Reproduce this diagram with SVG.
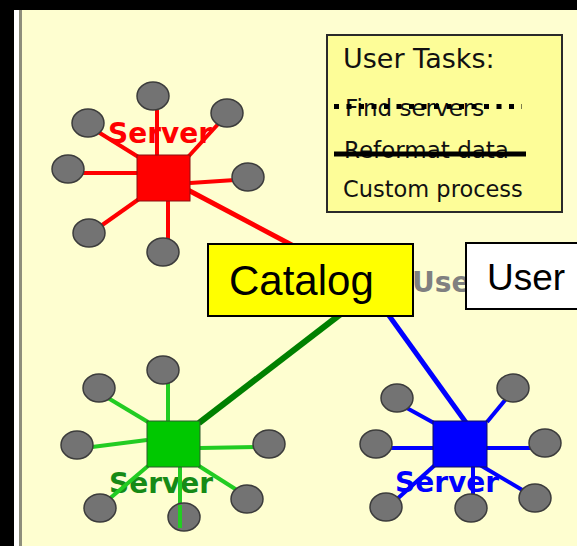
<svg xmlns="http://www.w3.org/2000/svg" width="577" height="546" viewBox="0 0 577 546">
<style>
.sat{fill:#737373;stroke:#3c3c3c;stroke-width:1.5}
.srv{font-family:"DejaVu Sans",Verdana,sans-serif;font-weight:bold;font-size:28px}
.leg{font-family:"DejaVu Sans",Verdana,sans-serif;fill:#111}
.box{font-family:"Liberation Sans",Arial,sans-serif;fill:#000}
.r{stroke:#ff0000;stroke-width:4;fill:none}
.g{stroke:#22cc22;stroke-width:4;fill:none}
.b{stroke:#0000ff;stroke-width:4;fill:none}
</style>
<rect x="0" y="0" width="577" height="546" fill="#000"/>
<rect x="14" y="10" width="6" height="536" fill="#ffffff"/>
<rect x="19" y="10" width="3" height="536" fill="#8e8e7c"/>
<rect x="22" y="10" width="555" height="536" fill="#fefed0"/>

<g id="connectors">
  <line x1="188" y1="190" x2="305" y2="252" stroke="#ff0000" stroke-width="5"/>
  <line x1="199" y1="423" x2="342" y2="313" stroke="#008000" stroke-width="6"/>
  <line x1="467" y1="424" x2="385" y2="310" stroke="#0000ff" stroke-width="5"/>
</g>

<g id="legend">
  <rect x="327" y="35" width="235" height="177" fill="#fdfd98" stroke="#2a2a2a" stroke-width="2"/>
  <text class="leg" x="343" y="68" font-size="27">User Tasks:</text>
  <text class="leg" x="345" y="116" font-size="23">Find servers</text>
  <line x1="334" y1="106.5" x2="522" y2="106.5" stroke="#000" stroke-width="5" stroke-dasharray="5 7.5"/>
  <text class="leg" x="344" y="158" font-size="23">Reformat data</text>
  <line x1="334" y1="154" x2="526" y2="154" stroke="#000" stroke-width="5"/>
  <text class="leg" x="343" y="197" font-size="22.5">Custom process</text>
</g>

<g id="server-red">
  <g class="r">
    <line x1="157" y1="110" x2="157" y2="155"/>
    <line x1="95" y1="130" x2="140" y2="158"/>
    <line x1="220" y1="122" x2="188" y2="157"/>
    <line x1="82" y1="173" x2="137" y2="173"/>
    <line x1="190" y1="183" x2="235" y2="180"/>
    <line x1="139" y1="199" x2="98" y2="228"/>
    <line x1="168" y1="201" x2="168" y2="240"/>
  </g>
  <text class="srv" x="108" y="143" fill="#ff0000">Server</text>
  <rect x="137" y="155" width="53" height="46" fill="#ff0000" stroke="#8a1010" stroke-width="1"/>
  <ellipse class="sat" cx="153" cy="96" rx="16" ry="14"/>
  <ellipse class="sat" cx="88" cy="123" rx="16" ry="14"/>
  <ellipse class="sat" cx="227" cy="113" rx="16" ry="14"/>
  <ellipse class="sat" cx="68" cy="169" rx="16" ry="14"/>
  <ellipse class="sat" cx="248" cy="177" rx="16" ry="14"/>
  <ellipse class="sat" cx="89" cy="233" rx="16" ry="14"/>
  <ellipse class="sat" cx="163" cy="252" rx="16" ry="14"/>
</g>

<g id="server-green">
  <g class="g">
    <line x1="168" y1="382" x2="168" y2="421"/>
    <line x1="108" y1="398" x2="148" y2="422"/>
    <line x1="92" y1="447" x2="147" y2="440"/>
    <line x1="200" y1="448" x2="256" y2="447"/>
  </g>
  <text class="srv" x="109" y="493" fill="#168a16">Server</text>
  <g class="g">
    <line x1="148" y1="466" x2="108" y2="500"/>
    <line x1="180" y1="467" x2="180" y2="520"/>
    <line x1="199" y1="466" x2="240" y2="492"/>
  </g>
  <rect x="147" y="421" width="53" height="46" fill="#00c800" stroke="#2c5a2c" stroke-width="1"/>
  <ellipse class="sat" cx="163" cy="370" rx="16" ry="14"/>
  <ellipse class="sat" cx="99" cy="388" rx="16" ry="14"/>
  <ellipse class="sat" cx="77" cy="445" rx="16" ry="14"/>
  <ellipse class="sat" cx="269" cy="444" rx="16" ry="14"/>
  <ellipse class="sat" cx="100" cy="508" rx="16" ry="14"/>
  <ellipse class="sat" cx="247" cy="499" rx="16" ry="14"/>
  <ellipse class="sat" cx="184" cy="517" rx="16" ry="14"/>
  <line x1="180" y1="505" x2="180" y2="528" stroke="#22cc22" stroke-width="4"/>
</g>

<g id="server-blue">
  <g class="b">
    <line x1="405" y1="407" x2="434" y2="423"/>
    <line x1="487" y1="422" x2="506" y2="399"/>
    <line x1="390" y1="448" x2="433" y2="448"/>
    <line x1="487" y1="448" x2="531" y2="448"/>
  </g>
  <text class="srv" x="395" y="492" fill="#0000ff">Server</text>
  <g class="b">
    <line x1="435" y1="465" x2="396" y2="500"/>
    <line x1="473" y1="467" x2="473" y2="495"/>
    <line x1="480" y1="465" x2="524" y2="491"/>
  </g>
  <rect x="433" y="421" width="54" height="46" fill="#0000ff" stroke="#101060" stroke-width="1"/>
  <ellipse class="sat" cx="397" cy="398" rx="16" ry="14"/>
  <ellipse class="sat" cx="513" cy="388" rx="16" ry="14"/>
  <ellipse class="sat" cx="376" cy="444" rx="16" ry="14"/>
  <ellipse class="sat" cx="545" cy="443" rx="16" ry="14"/>
  <ellipse class="sat" cx="386" cy="507" rx="16" ry="14"/>
  <ellipse class="sat" cx="535" cy="498" rx="16" ry="14"/>
  <ellipse class="sat" cx="471" cy="508" rx="16" ry="14"/>
</g>

<g id="user-label">
  <text class="srv" x="412" y="292" fill="#808080">Use</text>
</g>

<g id="catalog">
  <rect x="208" y="244" width="205" height="72" fill="#ffff00" stroke="#000" stroke-width="2"/>
  <text class="box" x="229" y="295" font-size="42">Catalog</text>
</g>

<g id="user">
  <rect x="466" y="243" width="130" height="66" fill="#ffffff" stroke="#000" stroke-width="2"/>
  <text class="box" x="487" y="290" font-size="37">User</text>
</g>
</svg>
